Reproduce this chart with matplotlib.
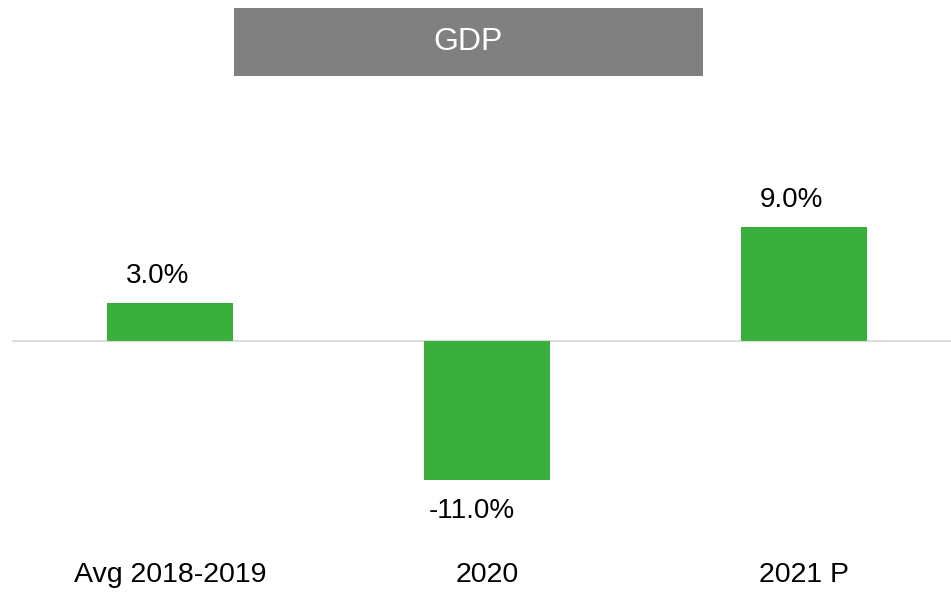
import matplotlib
matplotlib.use("Agg")
import matplotlib.pyplot as plt
from matplotlib.patches import Rectangle

categories = ["Avg 2018-2019", "2020", "2021 P"]
values = [3.0, -11.0, 9.0]
value_labels = ["3.0%", "-11.0%", "9.0%"]
title = "GDP"

BAR = "#3BAF3C"
plt.rcParams['font.family'] = ['Liberation Sans', 'DejaVu Sans']

W, H = 951, 594
fig = plt.figure(figsize=(W/100, H/100), dpi=100)

ymin, ymax = -13, 12
ppu = 12.67
top_px = 341 - ymax*ppu
bot_px = 341 - ymin*ppu
left_px = 11.5
ax = fig.add_axes([left_px/W, (H-bot_px)/H, 951/W, (bot_px-top_px)/H])
x = range(len(categories))
ax.bar(x, values, width=0.4, color=BAR, zorder=2)
ax.axhline(0, color="#D9D9D9", lw=1.3, zorder=1)
ax.set_xlim(-0.5, 2.5)
ax.set_ylim(ymin, ymax)
ax.set_yticks([])
ax.set_xticks(list(x))
ax.set_xticklabels(categories, fontsize=20.5, color="#000000")
ax.tick_params(axis='x', length=0, pad=40.5)
for s in ax.spines.values():
    s.set_visible(False)

for xi, v, lab in zip(x, values, value_labels):
    if v >= 0:
        ax.annotate(lab, (xi, v), xytext=(-9, 14.5), textcoords='offset points',
                    ha='center', va='baseline', fontsize=20)
    else:
        ax.annotate(lab, (xi, v), xytext=(-11, -13), textcoords='offset points',
                    ha='center', va='top', fontsize=20)

# title box
fig.patches.append(Rectangle((234/W, 1-76/H), (703-234)/W, 68/H,
                             transform=fig.transFigure, facecolor="#808080",
                             edgecolor="none"))
fig.text((234+703)/2/W, 1-42/H, title, ha='center', va='center',
         color='white', fontsize=23)

fig.savefig("out.png", dpi=100)
